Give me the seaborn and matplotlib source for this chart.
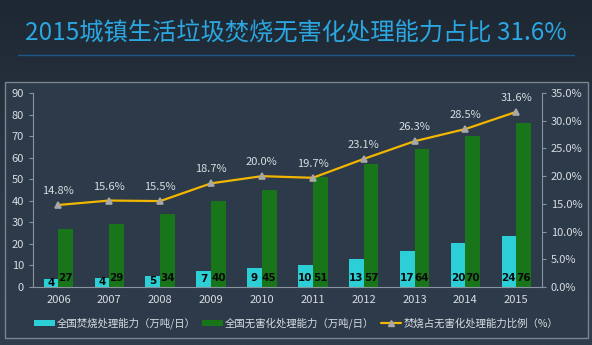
import numpy as np
import pandas as pd
import matplotlib
matplotlib.use("Agg")
import matplotlib.pyplot as plt
from matplotlib.patches import Rectangle, Patch
from matplotlib.lines import Line2D
from matplotlib.colors import LinearSegmentedColormap
import seaborn as sns

years = ["2006", "2007", "2008", "2009", "2010", "2011", "2012", "2013", "2014", "2015"]
incineration = [3.7, 4.4, 5.2, 7.4, 8.8, 10.1, 13.0, 16.9, 20.2, 23.6]
harmless = [27, 29, 34, 40, 45, 51, 57, 64, 70, 76]
ratio = [14.8, 15.6, 15.5, 18.7, 20.0, 19.7, 23.1, 26.3, 28.5, 31.6]
series_names = ["全国焚烧处理能力（万吨/日）", "全国无害化处理能力（万吨/日）"]
line_name = "焚烧占无害化处理能力比例（%）"
title = "2015城镇生活垃圾焚烧无害化处理能力占比 31.6%"

sns.set_theme(style="white")
plt.rcParams['font.family'] = ['Noto Sans CJK SC', 'DejaVu Sans']

CYAN = "#2dcfd6"
GREEN = "#197519"
GOLD = "#f2b600"
TXT = "#d8dde2"
SPINE = "#8a949f"

fig = plt.figure(figsize=(5.92, 3.45), dpi=100)

# background gradient
bg = fig.add_axes([0, 0, 1, 1], zorder=-10)
grad = np.linspace(0, 1, 256).reshape(-1, 1)
cmap = LinearSegmentedColormap.from_list("bg", ["#1e2833", "#2a3644", "#2f3d4c"])
bg.imshow(grad, aspect="auto", cmap=cmap, extent=[0, 1, 0, 1], origin="upper")
bg.set_axis_off()
bg.add_patch(Rectangle((5/592, 7/345), 583/592, 256/345, transform=bg.transAxes,
                       facecolor="#2c3a49", edgecolor="#7a8591", lw=1.0))
bg.plot([0.03, 0.97], [1-55/345, 1-55/345], color="#1f64a0", lw=1.0, alpha=0.8)
bg.set_xlim(0, 1); bg.set_ylim(0, 1)

fig.text(0.5, 1-33/345, title, ha="center", va="center", fontsize=17.5, color="#2ba6e0")

ax = fig.add_axes([33/592, 1-287/345, (541.7-33)/592, (287-93)/345])
ax.set_facecolor("none")

df = pd.DataFrame({
    "year": years * 2,
    "value": incineration + harmless,
    "series": [series_names[0]] * len(years) + [series_names[1]] * len(years),
})
sns.barplot(data=df, x="year", y="value", hue="series", order=years,
            hue_order=series_names, palette=[CYAN, GREEN], width=0.58,
            saturation=1, ax=ax, legend=False, edgecolor="none")
ax.set_ylim(0, 90)
ax.set_yticks(range(0, 91, 10))
ax.set_xlim(-0.5, len(years) - 0.5)
ax.set_xlabel(""); ax.set_ylabel("")

for cont in ax.containers:
    for rect in cont:
        h = rect.get_height()
        cx = rect.get_x() + rect.get_width() / 2
        ax.text(cx, min(h / 2, 4.4), f"{h:.0f}", ha="center", va="center",
                fontsize=7.5, fontweight="bold", color="#0a0a0a",
                family=["Liberation Sans Narrow", "DejaVu Sans"])

ax2 = ax.twinx()
ax2.set_facecolor("none")
sns.pointplot(x=years, y=ratio, order=years, color=GOLD, markers="^",
              markersize=4, linewidth=1.6, ax=ax2)
for ln in ax2.lines:
    ln.set_markerfacecolor("#a8a8a8")
    ln.set_markeredgecolor("#a8a8a8")
ax2.set_ylim(0, 35)
ax2.set_yticks(np.arange(0, 36, 5))
ax2.set_yticklabels([f"{v:.1f}%" for v in np.arange(0, 36, 5)])
ax2.set_xlim(-0.5, len(years) - 0.5)
for i, r in enumerate(ratio):
    ax2.text(i, r + 1.6, f"{r:.1f}%", ha="center", va="bottom", fontsize=8, color=TXT)

for a in (ax, ax2):
    a.spines["top"].set_visible(False)
    for s in ("left", "right", "bottom"):
        a.spines[s].set_color(SPINE)
        a.spines[s].set_linewidth(0.8)
    a.tick_params(colors=TXT, labelsize=8, length=3, width=0.8)
    a.tick_params(axis="y", colors=SPINE, labelcolor=TXT)
ax.spines["right"].set_visible(False)
ax2.spines["left"].set_visible(False)
ax2.spines["bottom"].set_visible(False)
ax.tick_params(axis="x", length=0, pad=6)
ax.set_xticks(np.arange(-0.5, len(years), 1), minor=True)
ax.tick_params(axis="x", which="minor", length=4, color=SPINE, width=0.8)
ax.grid(False); ax2.grid(False)
ax2.set_xlabel(""); ax2.set_ylabel("")

handles = [Patch(facecolor=CYAN, edgecolor="none"),
           Patch(facecolor=GREEN, edgecolor="none"),
           Line2D([], [], color=GOLD, lw=1.6, marker="^", markersize=4,
                  markerfacecolor="#a8a8a8", markeredgecolor="#a8a8a8")]
fig.legend(handles, series_names + [line_name], loc="center",
           bbox_to_anchor=(0.5, 1-323/345), ncol=3, frameon=False,
           fontsize=7.5, handlelength=2.0, handleheight=0.5,
           handletextpad=0.2, columnspacing=0.6, labelcolor=TXT)

fig.savefig("out.png", dpi=100, facecolor=fig.get_facecolor())
